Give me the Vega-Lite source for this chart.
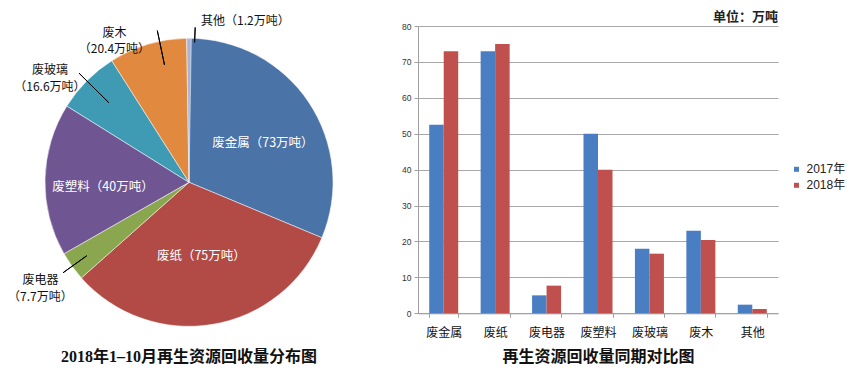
{
  "$schema": "https://vega.github.io/schema/vega-lite/v6.json",
  "padding": {"left": 0, "top": 11, "right": 0, "bottom": 0},
  "background": "white",
  "spacing": 23,
  "resolve": {"scale": {"color": "independent", "theta": "independent"}},
  "config": {
    "view": {"stroke": null},
    "font": "Noto Sans CJK SC",
    "text": {"font": "Noto Sans CJK SC"}
  },
  "datasets": {
    "pie": [
      {"k": 1, "name": "废金属", "v": 73, "lab": "废金属（73万吨）"},
      {"k": 2, "name": "废纸", "v": 75, "lab": "废纸（75万吨）"},
      {"k": 3, "name": "废电器", "v": 7.7, "lab": "废电器\n（7.7万吨）"},
      {"k": 4, "name": "废塑料", "v": 40, "lab": "废塑料（40万吨）"},
      {"k": 5, "name": "废玻璃", "v": 16.6, "lab": "废玻璃\n（16.6万吨）"},
      {"k": 6, "name": "废木", "v": 20.4, "lab": "废木\n（20.4万吨）"},
      {"k": 7, "name": "其他", "v": 1.2, "lab": "其他（1.2万吨）"}
    ],
    "bars": [
      {"c": "废金属", "yr": "2017年", "v": 52.5},
      {"c": "废金属", "yr": "2018年", "v": 73},
      {"c": "废纸", "yr": "2017年", "v": 73},
      {"c": "废纸", "yr": "2018年", "v": 75},
      {"c": "废电器", "yr": "2017年", "v": 5},
      {"c": "废电器", "yr": "2018年", "v": 7.7},
      {"c": "废塑料", "yr": "2017年", "v": 50},
      {"c": "废塑料", "yr": "2018年", "v": 40},
      {"c": "废玻璃", "yr": "2017年", "v": 18},
      {"c": "废玻璃", "yr": "2018年", "v": 16.6},
      {"c": "废木", "yr": "2017年", "v": 23},
      {"c": "废木", "yr": "2018年", "v": 20.4},
      {"c": "其他", "yr": "2017年", "v": 2.4},
      {"c": "其他", "yr": "2018年", "v": 1.2}
    ]
  },
  "hconcat": [
    {
      "width": 378,
      "height": 312.6,
      "data": {"name": "pie"},
      "title": {
        "text": "2018年1–10月再生资源回收量分布图",
        "orient": "bottom",
        "offset": 10,
        "font": "Liberation Serif, Noto Sans CJK SC",
        "fontSize": 16,
        "fontWeight": "bold",
        "color": "#111"
      },
      "transform": [
        {"stack": "v", "groupby": [], "sort": [{"field": "k", "order": "ascending"}], "as": ["s0", "e0"]},
        {"fold": ["s0", "e0"], "as": ["key", "pos"]},
        {
          "aggregate": [
            {"op": "mean", "field": "pos", "as": "mid"},
            {"op": "min", "field": "pos", "as": "s"},
            {"op": "max", "field": "pos", "as": "e"}
          ],
          "groupby": ["name", "k", "v", "lab"]
        }
      ],
      "layer": [
        {
          "mark": {"type": "arc", "radius": 144, "stroke": "#ffffff", "strokeWidth": 0.5},
          "encoding": {
            "theta": {"field": "s", "type": "quantitative", "stack": null},
            "theta2": {"field": "e"},
            "color": {
              "field": "name",
              "type": "nominal",
              "scale": {
                "domain": ["废金属", "废纸", "废电器", "废塑料", "废玻璃", "废木", "其他"],
                "range": ["#4a73a8", "#b24a46", "#8aa74f", "#6f5693", "#3f9bb4", "#e0893f", "#a7b4d6"]
              },
              "legend": null
            }
          }
        },
        {
          "transform": [{"filter": {"field": "name", "equal": "废金属"}}],
          "mark": {"type": "text", "radius": 84, "dx": 4, "dy": 7, "fill": "#ffffff", "fontSize": 12.5, "align": "center", "baseline": "middle"},
          "encoding": {
            "theta": {"field": "mid", "type": "quantitative", "stack": null},
            "text": {"field": "lab"}
          }
        },
        {
          "transform": [{"filter": {"field": "name", "equal": "废纸"}}],
          "mark": {"type": "text", "radius": 75, "fill": "#ffffff", "fontSize": 12.5, "align": "center", "baseline": "middle"},
          "encoding": {
            "theta": {"field": "mid", "type": "quantitative", "stack": null},
            "text": {"field": "lab"}
          }
        },
        {
          "transform": [{"filter": {"field": "name", "equal": "废塑料"}}],
          "mark": {"type": "text", "radius": 86, "dy": 6, "fill": "#ffffff", "fontSize": 12.5, "align": "center", "baseline": "middle"},
          "encoding": {
            "theta": {"field": "mid", "type": "quantitative", "stack": null},
            "text": {"field": "lab"}
          }
        },
        {
          "transform": [{"filter": {"field": "name", "equal": "废木"}}],
          "layer": [
            {
              "mark": {"type": "arc", "radius": 155, "radius2": 120, "thetaOffset": 0.085, "theta2Offset": 0.085, "filled": false, "stroke": "#000000", "strokeWidth": 1},
              "encoding": {
                "theta": {"field": "mid", "type": "quantitative", "stack": null},
                "theta2": {"field": "mid"}
              }
            },
            {
              "mark": {"type": "text", "radius": 166, "dx": -27, "dy": 10, "fill": "#111111", "fontSize": 12, "lineBreak": "\n", "lineHeight": 16, "align": "center", "baseline": "middle"},
              "encoding": {
                "theta": {"field": "mid", "type": "quantitative", "stack": null},
                "text": {"field": "lab"}
              }
            }
          ]
        },
        {
          "transform": [{"filter": {"field": "name", "equal": "废玻璃"}}],
          "layer": [
            {
              "mark": {"type": "arc", "radius": 155, "radius2": 113, "filled": false, "stroke": "#000000", "strokeWidth": 1},
              "encoding": {
                "theta": {"field": "mid", "type": "quantitative", "stack": null},
                "theta2": {"field": "mid"}
              }
            },
            {
              "mark": {"type": "text", "radius": 179, "dx": -12, "dy": 14, "fill": "#111111", "fontSize": 12, "lineBreak": "\n", "lineHeight": 17, "align": "center", "baseline": "middle"},
              "encoding": {
                "theta": {"field": "mid", "type": "quantitative", "stack": null},
                "text": {"field": "lab"}
              }
            }
          ]
        },
        {
          "transform": [{"filter": {"field": "name", "equal": "废电器"}}],
          "layer": [
            {
              "mark": {"type": "arc", "radius": 155, "radius2": 126, "filled": false, "stroke": "#000000", "strokeWidth": 1},
              "encoding": {
                "theta": {"field": "mid", "type": "quantitative", "stack": null},
                "theta2": {"field": "mid"}
              }
            },
            {
              "mark": {"type": "text", "radius": 178, "dx": -4, "dy": -6, "fill": "#111111", "fontSize": 12, "lineBreak": "\n", "lineHeight": 17, "align": "center", "baseline": "middle"},
              "encoding": {
                "theta": {"field": "mid", "type": "quantitative", "stack": null},
                "text": {"field": "lab"}
              }
            }
          ]
        },
        {
          "transform": [{"filter": {"field": "name", "equal": "其他"}}],
          "layer": [
            {
              "mark": {"type": "arc", "radius": 155, "radius2": 140, "thetaOffset": 0.04, "theta2Offset": 0.04, "filled": false, "stroke": "#000000", "strokeWidth": 1},
              "encoding": {
                "theta": {"field": "mid", "type": "quantitative", "stack": null},
                "theta2": {"field": "mid"}
              }
            },
            {
              "mark": {"type": "text", "radius": 162, "dx": 12, "dy": 1, "fill": "#111111", "fontSize": 12, "align": "left", "baseline": "middle"},
              "encoding": {
                "theta": {"field": "mid", "type": "quantitative", "stack": null},
                "text": {"field": "lab"}
              }
            }
          ]
        }
      ]
    },
    {
      "width": 360,
      "height": 287.3,
      "data": {"name": "bars"},
      "title": {
        "text": "单位：万吨",
        "anchor": "end",
        "frame": "group",
        "offset": -2.3,
        "font": "Liberation Serif, Noto Sans CJK SC",
        "fontSize": 13,
        "fontWeight": "bold",
        "color": "#222"
      },
      "mark": {"type": "bar"},
      "encoding": {
        "x": {
          "field": "c",
          "type": "nominal",
          "sort": null,
          "scale": {"paddingInner": 0.436, "paddingOuter": 0.218},
          "axis": {
            "labelAngle": 0,
            "tickBand": "extent",
            "tickSize": 4,
            "tickColor": "#a0a0a0",
            "domainColor": "#a0a0a0",
            "labelPadding": 10,
            "labelFont": "Noto Sans CJK SC",
            "labelFontSize": 12,
            "labelColor": "#111",
            "title": "再生资源回收量同期对比图",
            "titleFont": "Liberation Serif, Noto Sans CJK SC",
            "titleFontSize": 16,
            "titleFontWeight": "bold",
            "titleColor": "#111",
            "titlePadding": 10
          }
        },
        "xOffset": {"field": "yr", "type": "nominal", "scale": {"paddingInner": 0, "paddingOuter": 0}},
        "y": {
          "field": "v",
          "type": "quantitative",
          "scale": {"domain": [0, 80]},
          "axis": {
            "title": null,
            "tickCount": 8,
            "grid": true,
            "gridColor": "#a8a8a8",
            "domainColor": "#a0a0a0",
            "tickColor": "#a0a0a0",
            "tickSize": 4,
            "labelPadding": 3,
            "labelFont": "Liberation Sans",
            "labelFontSize": 8.5,
            "labelColor": "#333"
          }
        },
        "color": {
          "field": "yr",
          "type": "nominal",
          "scale": {"range": ["#4a7ec2", "#c0504d"]},
          "legend": {
            "title": null,
            "orient": "none",
            "legendX": 372.5,
            "legendY": 137.3,
            "padding": 0,
            "symbolType": "square",
            "symbolSize": 25,
            "symbolStrokeWidth": 0,
            "labelFont": "Liberation Sans, Noto Sans CJK SC",
            "labelFontSize": 12,
            "labelColor": "#222",
            "labelOffset": 4,
            "rowPadding": 4
          }
        }
      }
    }
  ]
}
